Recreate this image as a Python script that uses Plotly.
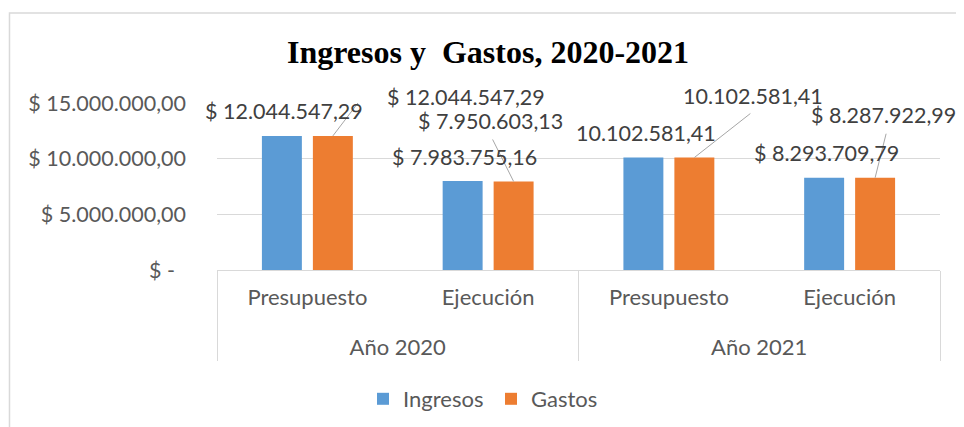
import plotly.graph_objects as go

# ---- data ----
years = ["Año 2020", "Año 2020", "Año 2021", "Año 2021"]
stages = ["Presupuesto", "Ejecución", "Presupuesto", "Ejecución"]
ingresos = [12044547.29, 7983755.16, 10102581.41, 8293709.79]
gastos = [12044547.29, 7950603.13, 10102581.41, 8287922.99]
ingresos_labels = ["$ 12.044.547,29", "$ 7.983.755,16", "10.102.581,41", "$ 8.293.709,79"]
gastos_labels = ["$ 12.044.547,29", "$ 7.950.603,13", "10.102.581,41", "$ 8.287.922,99"]
ytick_vals = [0, 5000000, 10000000, 15000000]
ytick_text = ["$ -\u00a0\u00a0", "$ 5.000.000,00", "$ 10.000.000,00", "$ 15.000.000,00"]
series_names = ["Ingresos", "Gastos"]
colors = ["#5B9BD5", "#ED7D31"]

# ---- label placement (pixel offsets from bar top) ----
ing_shift = [(2, 25), (2, 24), (3, 25), (2, 25)]
gas_shift = [(133, 39), (-23, 60), (59, 62), (8, 63)]
gas_leaders = ["M0,0 L29,38 L40,38", "M0,0 L-21,42", "M0,0 L56,44", "M0,0 L11,44"]

BARGAP = 0.436
GROUPGAP = 0.216
half = (1 - BARGAP) / 4

FONT = "Lato"
GREY = "#595959"

# year labels placed on a second line so they sit lower, as in the reference
year_axis_labels = ["<br>" + y for y in years]

fig = go.Figure()
fig.add_trace(go.Bar(x=[year_axis_labels, stages], y=ingresos, name=series_names[0],
                     marker=dict(color=colors[0], line=dict(width=0))))
fig.add_trace(go.Bar(x=[year_axis_labels, stages], y=gastos, name=series_names[1],
                     marker=dict(color=colors[1], line=dict(width=0))))

annotations = []
shapes = []
for i in range(len(years)):
    xb = i - half
    dx, dy = ing_shift[i]
    annotations.append(dict(x=xb, y=ingresos[i], xref="x", yref="y", text=ingresos_labels[i],
                            showarrow=False, xshift=dx, yshift=dy,
                            font=dict(family=FONT, size=21.5, color="#404040")))
    xo = i + half
    dx, dy = gas_shift[i]
    annotations.append(dict(x=xo, y=gastos[i], xref="x", yref="y", text=gastos_labels[i],
                            showarrow=False, xshift=dx, yshift=dy,
                            font=dict(family=FONT, size=21.5, color="#404040")))
    shapes.append(dict(type="path", xref="x", yref="y", xsizemode="pixel", ysizemode="pixel",
                       xanchor=xo, yanchor=gastos[i], path=gas_leaders[i],
                       line=dict(color="#A6A6A6", width=1)))

# outer chart border
shapes.append(dict(type="rect", xref="paper", yref="paper", x0=-0.287, x1=1.2, y0=-1.2, y1=1.539,
                   line=dict(color="#D9D9D9", width=1.5), layer="below"))

fig.update_layout(
    width=964, height=427,
    margin=dict(l=209, r=32, t=95, b=165, autoexpand=False),
    paper_bgcolor="white", plot_bgcolor="white",
    bargap=BARGAP, bargroupgap=GROUPGAP, barmode="group",
    title=dict(text="Ingresos y\u00a0 Gastos, 2020-2021", x=480 / 964, xanchor="center",
               xref="container", yref="container", y=1 - 44 / 427, yanchor="middle",
               font=dict(family="Liberation Serif", size=32, color="black", weight="bold")),
    font=dict(family=FONT, color=GREY),
    showlegend=True,
    legend=dict(orientation="h", xref="container", yref="container", x=483 / 964, xanchor="center",
                y=1 - 391 / 427, yanchor="middle", font=dict(family=FONT, size=22, color=GREY),
                itemwidth=30, entrywidth=83),
    annotations=annotations,
    shapes=shapes,
)
fig.update_yaxes(range=[0, 15000000], tickvals=ytick_vals, ticktext=ytick_text, automargin=False,
                 showgrid=True, gridcolor="#D9D9D9", gridwidth=1, zeroline=False,
                 showline=False, ticklabelstandoff=30,
                 tickfont=dict(family=FONT, size=21.5, color=GREY))
fig.update_xaxes(type="multicategory", range=[-0.5, 3.5], automargin=False,
                 showline=True, linecolor="#D9D9D9", linewidth=1,
                 showdividers=True, dividercolor="#D9D9D9", dividerwidth=1,
                 ticklabelstandoff=8,
                 tickfont=dict(family=FONT, size=22, color=GREY))

fig.write_html("out.html")
